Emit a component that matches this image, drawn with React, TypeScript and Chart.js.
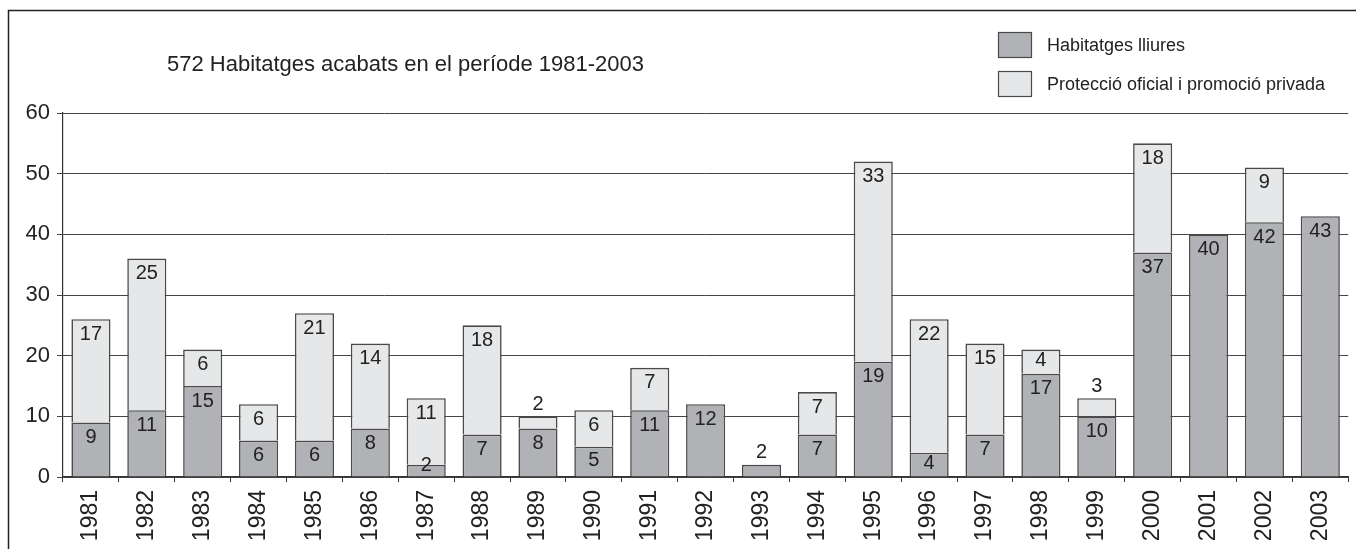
import React, { useEffect, useRef } from 'react';
import { Chart, registerables } from 'chart.js';

Chart.register(...registerables);

const years = ['1981','1982','1983','1984','1985','1986','1987','1988','1989','1990','1991','1992','1993','1994','1995','1996','1997','1998','1999','2000','2001','2002','2003'];
const lliures = [9, 11, 15, 6, 6, 8, 2, 7, 8, 5, 11, 12, 2, 7, 19, 4, 7, 17, 10, 37, 40, 42, 43];
const proteccio = [17, 25, 6, 6, 21, 14, 11, 18, 2, 6, 7, 0, 0, 7, 33, 22, 15, 4, 3, 18, 0, 9, 0];
const yMin = 0;
const yMax = 60;
const yStep = 10;
const title = '572 Habitatges acabats en el període 1981-2003';
const seriesNames = ['Habitatges lliures', 'Protecció oficial i promoció privada'];

const DARK = '#b1b2b5';
const LIGHT = '#e6e7e8';
const EDGE = '#4a4a4a';
const INK = '#222222';
const SANS = "'Liberation Sans', Arial, Helvetica, sans-serif";

const decorPlugin = {
  id: 'decor',
  beforeDraw(chart: any) {
    const ctx = chart.ctx;
    ctx.save();
    ctx.fillStyle = '#ffffff';
    ctx.fillRect(0, 0, chart.width, chart.height);
    ctx.restore();
  },
  afterDraw(chart: any) {
    const ctx = chart.ctx;
    ctx.save();
    // frame
    ctx.strokeStyle = INK;
    ctx.lineWidth = 1.5;
    ctx.beginPath();
    ctx.moveTo(8.5, chart.height);
    ctx.lineTo(8.5, 10.5);
    ctx.lineTo(chart.width, 10.5);
    ctx.stroke();
    // title
    ctx.fillStyle = INK;
    ctx.font = `22px ${SANS}`;
    ctx.textAlign = 'left';
    ctx.textBaseline = 'middle';
    ctx.fillText(title, 167, 65);
    // legend
    const fills = [DARK, LIGHT];
    const tops = [32, 71];
    ctx.font = `18px ${SANS}`;
    for (let i = 0; i < 2; i++) {
      ctx.fillStyle = fills[i];
      ctx.fillRect(998, tops[i], 33, 25);
      ctx.strokeStyle = EDGE;
      ctx.lineWidth = 1.2;
      ctx.strokeRect(998.5, tops[i] + 0.5, 33, 25);
      ctx.fillStyle = INK;
      ctx.fillText(seriesNames[i], 1047, tops[i] + 14);
    }
    ctx.restore();
  },
  afterDatasetsDraw(chart: any) {
    const ctx = chart.ctx;
    ctx.save();
    ctx.fillStyle = INK;
    ctx.font = `20px ${SANS}`;
    ctx.textAlign = 'center';
    ctx.textBaseline = 'middle';
    const sets = [lliures, proteccio];
    for (let d = 0; d < 2; d++) {
      const meta = chart.getDatasetMeta(d);
      meta.data.forEach((bar: any, i: number) => {
        const v = sets[d][i];
        if (!v) return;
        const top = Math.min(bar.y, bar.base);
        const h = Math.abs(bar.base - bar.y);
        const topmost = d === 1 || proteccio[i] === 0;
        let cy;
        if (h >= 20) cy = top + Math.min(15, h / 2 - 1);
        else if (topmost) cy = top - 12;
        else cy = top + 1;
        ctx.fillText(String(v), bar.x, cy);
      });
    }
    ctx.restore();
  },
};

export default function App() {
  const ref = useRef<HTMLCanvasElement | null>(null);
  useEffect(() => {
    if (!ref.current) return;
    const chart = new Chart(ref.current, {
      type: 'bar',
      data: {
        labels: years,
        datasets: [
          {
            label: seriesNames[0],
            data: lliures,
            backgroundColor: DARK,
            borderColor: EDGE,
            borderWidth: 1.6,
            borderSkipped: 'bottom',
            barPercentage: 0.7,
            categoryPercentage: 1,
          },
          {
            label: seriesNames[1],
            data: proteccio,
            backgroundColor: LIGHT,
            borderColor: EDGE,
            borderWidth: 1.6,
            borderSkipped: 'bottom',
            barPercentage: 0.7,
            categoryPercentage: 1,
          },
        ],
      },
      options: {
        responsive: false,
        animation: false,
        devicePixelRatio: 1,
        layout: { padding: { left: 0, right: 5, top: 113, bottom: 0 } },
        plugins: {
          legend: { display: false },
          title: { display: false },
          tooltip: { enabled: false },
        },
        scales: {
          x: {
            stacked: true,
            offset: true,
            grid: {
              offset: true,
              drawOnChartArea: false,
              drawTicks: true,
              tickLength: 5,
              color: '#333333',
              lineWidth: 1,
            },
            border: { display: true, color: '#333333', width: 1.2 },
            ticks: {
              autoSkip: false,
              minRotation: 90,
              maxRotation: 90,
              padding: 8,
              color: INK,
              font: { family: SANS, size: 23 },
            },
            afterFit: (s: any) => { s.height = 72; },
          },
          y: {
            stacked: true,
            min: yMin,
            max: yMax,
            ticks: {
              stepSize: yStep,
              padding: 7,
              color: INK,
              font: { family: SANS, size: 22 },
            },
            grid: {
              color: '#444444',
              lineWidth: 1,
              tickLength: 6,
            },
            border: { display: true, color: '#333333', width: 1.2 },
            afterFit: (s: any) => { s.width = 63; },
          },
        },
      },
      plugins: [decorPlugin],
    } as any);
    return () => chart.destroy();
  }, []);
  return (
    <div style={{ position: 'absolute', left: 0, top: 0, width: 1356, height: 549 }}>
      <canvas ref={ref} width={1356} height={549} style={{ display: 'block' }} />
    </div>
  );
}
